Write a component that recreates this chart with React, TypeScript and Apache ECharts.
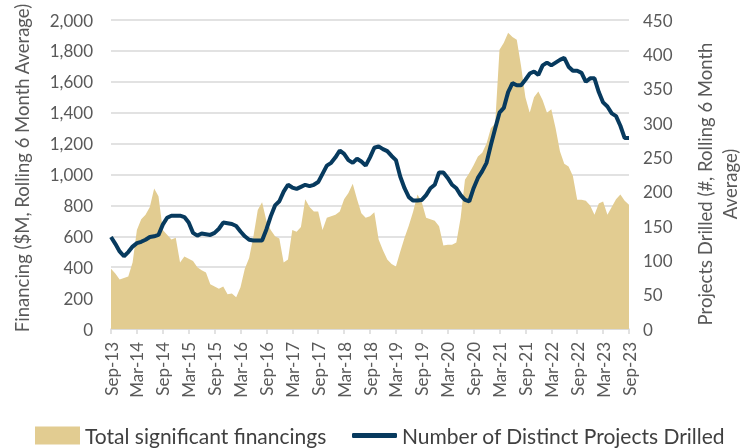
import React, { useEffect, useRef } from "react";
import * as echarts from "echarts";

const MONTHS = ["Jan", "Feb", "Mar", "Apr", "May", "Jun", "Jul", "Aug", "Sep", "Oct", "Nov", "Dec"];
// Monthly categories Sep-13 .. Sep-23
const categories: string[] = [];
for (let i = 0; i <= 120; i++) {
  const k = 8 + i;
  categories.push(`${MONTHS[k % 12]}-${13 + Math.floor(k / 12)}`);
}

const financing = [
  390, 360, 320, 330, 340, 430, 640, 710, 740, 790, 910, 860,
  640, 610, 580, 590, 430, 470, 455, 440, 400, 380, 365, 290,
  275, 260, 275, 225, 230, 205, 270, 390, 460, 600, 770, 820,
  700, 640, 600, 585, 430, 450, 640, 630, 660, 840, 790, 760,
  760, 640, 720, 730, 740, 760, 840, 880, 940, 840, 750, 720,
  730, 755, 580, 510, 450, 420, 405, 500, 590, 670, 760, 870,
  820, 720, 710, 700, 665, 540, 545, 546, 560, 720, 966, 1010,
  1060, 1117, 1140, 1200, 1300, 1330, 1808, 1853, 1917, 1890, 1872, 1700,
  1500, 1400, 1500, 1537, 1480, 1400, 1422, 1300, 1150, 1070, 1052, 990,
  836, 836, 830, 800, 740, 813, 826, 740, 790, 840, 870, 830,
  805,
];

const projects = [
  134, 124, 113, 106, 112, 120, 125, 127, 130, 134, 135, 137,
  152, 162, 165, 165, 165, 163, 155, 140, 136, 139, 138, 137,
  140, 146, 155, 154, 153, 150, 142, 135, 130, 129, 129, 129,
  145, 164, 180, 186, 200, 210, 206, 204, 207, 210, 208, 210,
  214, 226, 238, 242, 250, 260, 255, 246, 242, 248, 244, 238,
  250, 264, 266, 262, 259, 252, 246, 222, 205, 192, 187, 187,
  188, 195, 205, 210, 228, 228, 220, 210, 205, 195, 188, 186,
  205, 220, 230, 242, 268, 292, 315, 322, 345, 358, 355, 355,
  363, 372, 375, 370, 384, 388, 384, 388, 392, 395, 382, 376,
  376, 373, 360, 365, 365, 345, 330, 324, 314, 310, 296, 278,
  278,
];

const FONT = "Lato, 'Open Sans', sans-serif";
const TAN = "#E2CC91";
const NAVY = "#073A5E";
const GREY = "#595959";

export default function App() {
  const ref = useRef<HTMLDivElement>(null);
  useEffect(() => {
    if (!ref.current) return;
    const chart = echarts.init(ref.current, undefined, { renderer: "svg" });
    chart.setOption({
      animation: false,
      textStyle: { fontFamily: FONT },
      grid: { left: 111, right: 115, top: 20, bottom: 119, containLabel: false },
      legend: [
        {
          left: 35,
          top: 425,
          padding: 0,
          itemWidth: 45,
          itemHeight: 18,
          icon: "rect",
          data: [{ name: "Total significant financings", itemStyle: { color: TAN } }],
          textStyle: { fontSize: 21, color: "#404040", fontFamily: FONT },
        },
        {
          left: 352,
          top: 425,
          padding: 0,
          itemWidth: 45,
          itemHeight: 5,
          icon: "roundRect",
          data: [{ name: "Number of Distinct Projects Drilled", itemStyle: { color: NAVY } }],
          textStyle: { fontSize: 21, color: "#404040", fontFamily: FONT },
        },
      ],
      xAxis: {
        type: "category",
        data: categories,
        boundaryGap: false,
        axisLine: { lineStyle: { color: "#D9D9D9", width: 1.5 } },
        axisTick: { interval: 5, length: 5, lineStyle: { color: "#D9D9D9", width: 1.5 } },
        axisLabel: {
          interval: 5,
          rotate: 90,
          margin: 13,
          fontSize: 17,
          color: GREY,
          fontFamily: FONT,
        },
      },
      yAxis: [
        {
          type: "value",
          min: 0,
          max: 2000,
          interval: 200,
          axisLine: { show: false },
          axisTick: { show: false },
          splitLine: { lineStyle: { color: "#D9D9D9", width: 1.5 } },
          axisLabel: {
            margin: 18,
            fontSize: 17,
            color: GREY,
            fontFamily: FONT,
            formatter: (v: number) => v.toLocaleString("en-US"),
          },
        },
        {
          type: "value",
          min: 0,
          max: 450,
          interval: 50,
          axisLine: { show: false },
          axisTick: { show: false },
          splitLine: { show: false },
          axisLabel: { margin: 14, fontSize: 17, color: GREY, fontFamily: FONT },
        },
      ],
      graphic: [
        {
          type: "text",
          x: 22,
          y: 168,
          rotation: Math.PI / 2,
          style: {
            text: "Financing ($M, Rolling 6 Month Average)",
            fontSize: 18.5,
            fill: GREY,
            fontFamily: FONT,
            align: "center",
            verticalAlign: "middle",
          },
        },
        {
          type: "text",
          x: 717,
          y: 184,
          rotation: Math.PI / 2,
          style: {
            text: "Projects Drilled (#, Rolling 6 Month\nAverage)",
            fontSize: 18.5,
            lineHeight: 25,
            fill: GREY,
            fontFamily: FONT,
            align: "center",
            verticalAlign: "middle",
          },
        },
      ],
      series: [
        {
          name: "Total significant financings",
          type: "line",
          data: financing,
          yAxisIndex: 0,
          showSymbol: false,
          symbol: "none",
          lineStyle: { width: 0, color: TAN },
          itemStyle: { color: TAN },
          areaStyle: { color: TAN, opacity: 1 },
          z: 1,
        },
        {
          name: "Number of Distinct Projects Drilled",
          type: "line",
          data: projects,
          yAxisIndex: 1,
          showSymbol: false,
          symbol: "none",
          lineStyle: { width: 4, color: NAVY },
          itemStyle: { color: NAVY },
          z: 3,
        },
      ],
    });
    return () => chart.dispose();
  }, []);
  return (
    <div
      ref={ref}
      style={{ position: "fixed", left: 0, top: 0, width: 744, height: 448 }}
    />
  );
}
